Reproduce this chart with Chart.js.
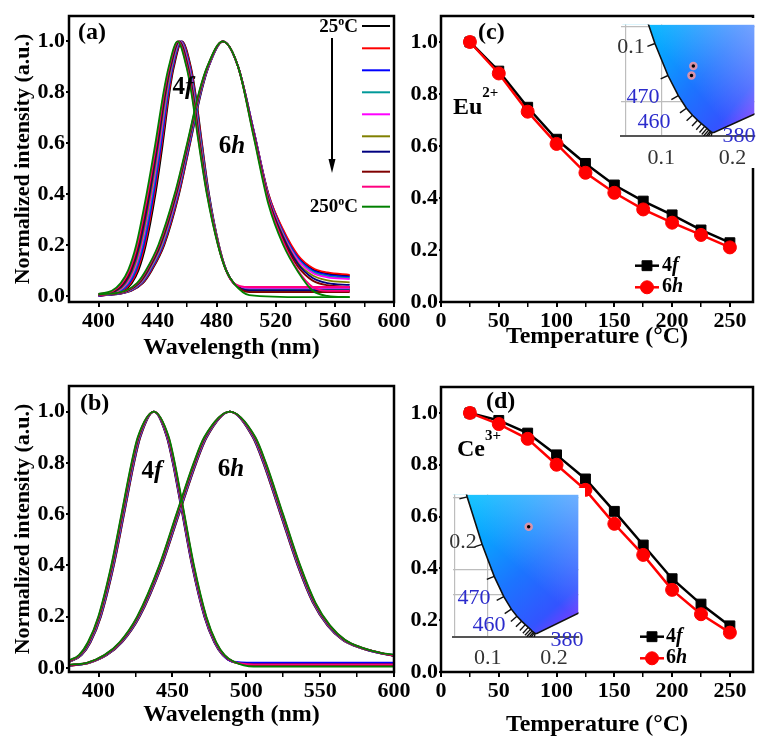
<!DOCTYPE html>
<html>
<head>
<meta charset="utf-8">
<script src="https://cdn.jsdelivr.net/npm/chart.js@4.4.1/dist/chart.umd.min.js"></script>
<style>
  body { margin: 0; background: #fff; }
  #page { position: relative; width: 761px; height: 740px; overflow: hidden; background: #fff; }
  canvas { position: absolute; }
</style>
</head>
<body>
<div id="page">
  <canvas id="specEu" width="420" height="362" style="left:0;top:0"></canvas>
  <canvas id="specCe" width="420" height="359" style="left:0;top:370px"></canvas>
  <canvas id="quenchEu" width="381" height="351" style="left:380px;top:0"></canvas>
  <canvas id="quenchCe" width="381" height="369" style="left:380px;top:370px"></canvas>
  <canvas id="cieEu" width="147" height="150" style="left:614px;top:18px"></canvas>
  <canvas id="cieCe" width="139" height="180" style="left:446px;top:488px"></canvas>
</div>
<script>
// ================================
// DATA
// ================================
const tempC = [25, 50, 75, 100, 125, 150, 175, 200, 225, 250];
const seriesColors = ["#000000", "#ff0000", "#0000ff", "#009999", "#ff00ff",
                      "#808000", "#000080", "#800000", "#ff0080", "#008000"];

// Eu2+ emission, 4f site, one row per temperature: [wavelength, intensity]
const spectraEu4f = [
  [[400,0],[417,.02],[422.5,.05],[427,.1],[432,.2],[438.5,.4],[443.5,.6],[448,.8],[451,.9],[456.5,1],[462.5,.9],[465.5,.8],[470,.6],[474.8,.4],[481.5,.2],[486.5,.1],[491.5,.05],[502,.02],[540,.02],[570,.02]],
  [[400,.001],[416.1,.02],[421.7,.05],[426.2,.1],[431.3,.2],[437.8,.4],[442.9,.6],[447.6,.8],[450.6,.9],[456.2,1],[462.2,.9],[465.2,.8],[469.8,.6],[474.6,.4],[481.4,.2],[486.5,.1],[491.5,.05],[502,.025],[540,.025],[570,.025]],
  [[400,.002],[415.2,.02],[420.8,.05],[425.4,.1],[430.6,.2],[437.2,.4],[442.4,.6],[447.1,.8],[450.2,.9],[455.8,1],[461.8,.9],[464.9,.8],[469.5,.6],[474.5,.4],[481.3,.2],[486.5,.1],[491.5,.05],[502,.03],[540,.03],[570,.03]],
  [[400,.003],[414.3,.02],[420,.05],[424.7,.1],[429.8,.2],[436.5,.4],[441.8,.6],[446.7,.8],[449.8,.9],[455.5,1],[461.5,.9],[464.6,.8],[469.3,.6],[474.3,.4],[481.3,.2],[486.4,.1],[491.5,.05],[502,.028],[540,.028],[570,.028]],
  [[400,.004],[413.4,.02],[419.2,.05],[423.9,.1],[429.1,.2],[435.8,.4],[441.3,.6],[446.2,.8],[449.4,.9],[455.2,1],[461.2,.9],[464.3,.8],[469,.6],[474.1,.4],[481.2,.2],[486.4,.1],[491.5,.05],[502,.032],[540,.032],[570,.032]],
  [[400,.005],[412.6,.02],[418.3,.05],[423.1,.1],[428.4,.2],[435.2,.4],[440.7,.6],[445.8,.8],[449.1,.9],[454.8,1],[460.8,.9],[464,.8],[468.8,.6],[474,.4],[481.1,.2],[486.4,.1],[491.5,.05],[502,.02],[540,.02],[570,.02]],
  [[400,.006],[411.7,.02],[417.5,.05],[422.3,.1],[427.7,.2],[434.5,.4],[440.2,.6],[445.3,.8],[448.7,.9],[454.5,1],[460.5,.9],[463.7,.8],[468.5,.6],[473.8,.4],[481,.2],[486.4,.1],[491.5,.05],[502,.022],[540,.022],[570,.022]],
  [[400,.006],[410.8,.02],[416.7,.05],[421.6,.1],[426.9,.2],[433.8,.4],[439.6,.6],[444.9,.8],[448.3,.9],[454.2,1],[460.2,.9],[463.4,.8],[468.3,.6],[473.6,.4],[481,.2],[486.3,.1],[491.5,.05],[502,.015],[540,.015],[570,.015]],
  [[400,.007],[409.9,.02],[415.8,.05],[420.8,.1],[426.2,.2],[433.2,.4],[439.1,.6],[444.4,.8],[447.9,.9],[453.8,1],[459.8,.9],[463.1,.8],[468,.6],[473.5,.4],[480.9,.2],[486.3,.1],[491.5,.05],[502,.035],[540,.035],[570,.035]],
  [[400,.008],[409,.02],[415,.05],[420,.1],[425.5,.2],[432.5,.4],[438.5,.6],[444,.8],[447.5,.9],[453.5,1],[459.5,.9],[462.8,.8],[467.8,.6],[473.3,.4],[480.8,.2],[486.3,.1],[491.5,.05],[502,.003],[540,-.005],[570,-.005]]
];

// Eu2+ emission, 6h site
const spectraEu6h = [
  [[400,0],[422,.02],[430,.05],[436,.1],[444.5,.2],[454.5,.4],[462,.6],[469.5,.8],[474.5,.9],[484.5,1],[494.5,.9],[505,.65],[515,.4],[525,.255],[535,.155],[545,.105],[555,.088],[570,.08]],
  [[400,0],[421.6,.02],[429.6,.05],[435.6,.1],[444.1,.2],[454.2,.4],[461.8,.6],[469.3,.8],[474.4,.9],[484.4,1],[494.5,.9],[505,.65],[515,.4],[525,.26],[535,.16],[545,.11],[555,.092],[570,.083]],
  [[400,0],[421.1,.02],[429.1,.05],[435.1,.1],[443.6,.2],[453.8,.4],[461.6,.6],[469.2,.8],[474.3,.9],[484.4,1],[494.5,.9],[505,.65],[515,.395],[525,.25],[535,.15],[545,.1],[555,.083],[570,.075]],
  [[400,.002],[420.7,.02],[428.7,.05],[434.7,.1],[443.2,.2],[453.5,.4],[461.3,.6],[469,.8],[474.2,.9],[484.3,1],[494.5,.9],[505,.645],[515,.39],[525,.245],[535,.145],[545,.095],[555,.078],[570,.07]],
  [[400,.002],[420.2,.02],[428.2,.05],[434.2,.1],[442.7,.2],[453.2,.4],[461.1,.6],[468.8,.8],[474.1,.9],[484.3,1],[494.5,.9],[505,.645],[515,.39],[525,.24],[535,.14],[545,.09],[555,.073],[570,.066]],
  [[400,.003],[419.8,.02],[427.8,.05],[433.8,.1],[442.3,.2],[452.8,.4],[460.9,.6],[468.7,.8],[473.9,.9],[484.2,1],[494.5,.9],[505,.64],[515,.385],[525,.235],[535,.13],[545,.08],[555,.061],[570,.053]],
  [[400,.003],[419.3,.02],[427.3,.05],[433.3,.1],[441.8,.2],[452.5,.4],[460.7,.6],[468.5,.8],[473.8,.9],[484.2,1],[494.5,.9],[505,.64],[515,.38],[525,.23],[535,.125],[545,.07],[555,.05],[570,.043]],
  [[400,.004],[418.9,.02],[426.9,.05],[432.9,.1],[441.4,.2],[452.2,.4],[460.4,.6],[468.3,.8],[473.7,.9],[484.1,1],[494.5,.9],[505,.635],[515,.375],[525,.22],[535,.115],[545,.06],[555,.042],[570,.035]],
  [[400,.004],[418.4,.02],[426.4,.05],[432.4,.1],[440.9,.2],[451.8,.4],[460.2,.6],[468.2,.8],[473.6,.9],[484.1,1],[494.5,.9],[505,.63],[515,.37],[525,.21],[535,.1],[545,.035],[555,.02],[570,.02]],
  [[400,.005],[418,.02],[426,.05],[432,.1],[440.5,.2],[451.5,.4],[460,.6],[468,.8],[473.5,.9],[484,1],[494.5,.9],[505,.625],[515,.36],[525,.2],[535,.095],[545,.02],[555,0],[570,-.005]]
];

// Ce3+ emission, 4f site
const spectraCe4f = [
  [[380,.022],[388.5,.05],[394.6,.1],[401.6,.2],[410.4,.4],[417.3,.6],[424.1,.8],[428.3,.9],[437.5,1],[446.2,.9],[450.2,.8],[456.7,.6],[463.2,.4],[471.6,.2],[478.3,.1],[484,.05],[490,.025],[505,.012],[600,.012]],
  [[380,.023],[388.3,.05],[394.4,.1],[401.4,.2],[410.2,.4],[417.1,.6],[423.9,.8],[428.1,.9],[437.5,1],[446.4,.9],[450.4,.8],[456.9,.6],[463.4,.4],[471.8,.2],[478.5,.1],[484.2,.05],[490.2,.025],[505,.014],[600,.014]],
  [[380,.024],[388.1,.05],[394.2,.1],[401.2,.2],[410,.4],[416.9,.6],[423.7,.8],[427.9,.9],[437.5,1],[446.5,.9],[450.5,.8],[457,.6],[463.5,.4],[471.9,.2],[478.6,.1],[484.3,.05],[490.3,.025],[505,.02],[600,.02]],
  [[380,.024],[387.9,.05],[394,.1],[401,.2],[409.8,.4],[416.7,.6],[423.5,.8],[427.7,.9],[437.5,1],[446.7,.9],[450.7,.8],[457.2,.6],[463.7,.4],[472.1,.2],[478.8,.1],[484.5,.05],[490.5,.025],[505,.012],[600,.012]],
  [[380,.025],[387.7,.05],[393.8,.1],[400.8,.2],[409.6,.4],[416.5,.6],[423.3,.8],[427.5,.9],[437.5,1],[446.8,.9],[450.8,.8],[457.3,.6],[463.8,.4],[472.2,.2],[478.9,.1],[484.6,.05],[490.6,.025],[505,.015],[600,.015]],
  [[380,.025],[387.5,.05],[393.6,.1],[400.6,.2],[409.4,.4],[416.3,.6],[423.1,.8],[427.3,.9],[437.5,1],[447,.9],[451,.8],[457.5,.6],[464,.4],[472.4,.2],[479.1,.1],[484.8,.05],[490.8,.025],[505,.01],[600,.01]],
  [[380,.026],[387.3,.05],[393.4,.1],[400.4,.2],[409.2,.4],[416.1,.6],[422.9,.8],[427.1,.9],[437.5,1],[447.1,.9],[451.1,.8],[457.6,.6],[464.1,.4],[472.5,.2],[479.2,.1],[484.9,.05],[490.9,.025],[505,.016],[600,.016]],
  [[380,.027],[387.1,.05],[393.2,.1],[400.2,.2],[409,.4],[415.9,.6],[422.7,.8],[426.9,.9],[437.5,1],[447.3,.9],[451.3,.8],[457.8,.6],[464.3,.4],[472.7,.2],[479.4,.1],[485.1,.05],[491.1,.025],[505,.012],[600,.012]],
  [[380,.028],[386.9,.05],[393,.1],[400,.2],[408.8,.4],[415.7,.6],[422.5,.8],[426.7,.9],[437.5,1],[447.4,.9],[451.4,.8],[457.9,.6],[464.4,.4],[472.8,.2],[479.5,.1],[485.2,.05],[491.2,.025],[505,.014],[600,.014]],
  [[380,.03],[386.7,.05],[392.8,.1],[399.8,.2],[408.6,.4],[415.5,.6],[422.3,.8],[426.5,.9],[437.5,1],[447.6,.9],[451.6,.8],[458.1,.6],[464.6,.4],[473,.2],[479.7,.1],[485.4,.05],[491.4,.025],[505,.005],[600,.005]]
];

// Ce3+ emission, 6h site
const spectraCe6h = [
  [[380,.008],[393.8,.02],[405.7,.05],[416,.1],[427.9,.2],[442.9,.4],[454.5,.6],[466.2,.8],[473.3,.9],[488.9,1],[504.4,.9],[511.5,.8],[523.1,.6],[534.7,.4],[545,.255],[555,.165],[565,.11],[577,.078],[590,.058],[600,.047]],
  [[380,.008],[393.6,.02],[405.5,.05],[415.8,.1],[427.7,.2],[442.7,.4],[454.3,.6],[466,.8],[473.1,.9],[488.9,1],[504.6,.9],[511.7,.8],[523.3,.6],[534.9,.4],[545.2,.255],[555.2,.165],[565.2,.11],[577.2,.078],[590.2,.058],[600,.048]],
  [[380,.009],[393.4,.02],[405.3,.05],[415.6,.1],[427.5,.2],[442.5,.4],[454.1,.6],[465.8,.8],[472.9,.9],[488.9,1],[504.8,.9],[511.9,.8],[523.5,.6],[535.1,.4],[545.4,.255],[555.4,.165],[565.4,.11],[577.4,.078],[590.4,.058],[600,.05]],
  [[380,.009],[393.2,.02],[405.1,.05],[415.4,.1],[427.3,.2],[442.3,.4],[453.9,.6],[465.6,.8],[472.7,.9],[488.9,1],[505,.9],[512.1,.8],[523.7,.6],[535.3,.4],[545.6,.255],[555.6,.165],[565.6,.11],[577.6,.078],[590.6,.058],[600,.046]],
  [[380,.01],[393,.02],[404.9,.05],[415.2,.1],[427.1,.2],[442.1,.4],[453.7,.6],[465.4,.8],[472.5,.9],[488.9,1],[505.2,.9],[512.3,.8],[523.9,.6],[535.5,.4],[545.8,.255],[555.8,.165],[565.8,.11],[577.8,.078],[590.8,.058],[600,.048]],
  [[380,.01],[392.8,.02],[404.7,.05],[415,.1],[426.9,.2],[441.9,.4],[453.5,.6],[465.2,.8],[472.3,.9],[488.9,1],[505.4,.9],[512.5,.8],[524.1,.6],[535.7,.4],[546,.255],[556,.165],[566,.11],[578,.078],[591,.058],[600,.047]],
  [[380,.011],[392.6,.02],[404.5,.05],[414.8,.1],[426.7,.2],[441.7,.4],[453.3,.6],[465,.8],[472.1,.9],[488.9,1],[505.6,.9],[512.7,.8],[524.3,.6],[535.9,.4],[546.2,.255],[556.2,.165],[566.2,.11],[578.2,.078],[591.2,.058],[600,.048]],
  [[380,.011],[392.4,.02],[404.3,.05],[414.6,.1],[426.5,.2],[441.5,.4],[453.1,.6],[464.8,.8],[471.9,.9],[488.9,1],[505.8,.9],[512.9,.8],[524.5,.6],[536.1,.4],[546.4,.255],[556.4,.165],[566.4,.11],[578.4,.078],[591.4,.058],[600,.047]],
  [[380,.012],[392.2,.02],[404.1,.05],[414.4,.1],[426.3,.2],[441.3,.4],[452.9,.6],[464.6,.8],[471.7,.9],[488.9,1],[506,.9],[513.1,.8],[524.7,.6],[536.3,.4],[546.6,.255],[556.6,.165],[566.6,.11],[578.6,.078],[591.6,.058],[600,.049]],
  [[380,.013],[392,.02],[403.9,.05],[414.2,.1],[426.1,.2],[441.1,.4],[452.7,.6],[464.4,.8],[471.5,.9],[488.9,1],[506.2,.9],[513.3,.8],[524.9,.6],[536.5,.4],[546.8,.255],[556.8,.165],[566.8,.11],[578.8,.078],[591.8,.058],[600,.052]]
];

// integrated intensity vs temperature
const quenchEu4f = [1.0, 0.888, 0.749, 0.626, 0.533, 0.45, 0.388, 0.335, 0.277, 0.228];
const quenchEu6h = [1.0, 0.879, 0.732, 0.608, 0.497, 0.42, 0.356, 0.305, 0.258, 0.21];
const quenchCe4f = [1.0, 0.971, 0.922, 0.838, 0.745, 0.62, 0.49, 0.36, 0.262, 0.178];
const quenchCe6h = [1.0, 0.957, 0.90, 0.80, 0.703, 0.572, 0.452, 0.317, 0.223, 0.152];

// ticks
const wlTicksEu = [400, 420, 440, 460, 480, 500, 520, 540, 560, 580, 600];
const wlLabelsEu = [400, 440, 480, 520, 560, 600];
const wlTicksCe = [400, 425, 450, 475, 500, 525, 550, 575, 600];
const wlLabelsCe = [400, 450, 500, 550, 600];
const tTicks = [0, 25, 50, 75, 100, 125, 150, 175, 200, 225, 250];
const tLabels = [0, 50, 100, 150, 200, 250];
const intTicks = [0, 0.2, 0.4, 0.6, 0.8, 1.0];

// CIE 1931 spectral locus (ordered by x) and the inset points
const locusNm = [490, 485, 480, 475, 470, 465, 460, 455, 450, 445, 440, 435, 430, 425, 420, 380, 700];
const locusX = [0.0454, 0.0687, 0.0913, 0.1096, 0.1241, 0.1355, 0.1440, 0.1510, 0.1566, 0.1611, 0.1644, 0.1669, 0.1689, 0.1703, 0.1714, 0.1741, 0.7347];
const locusY = [0.2950, 0.2007, 0.1327, 0.0868, 0.0578, 0.0399, 0.0297, 0.0227, 0.0177, 0.0138, 0.0109, 0.0086, 0.0069, 0.0058, 0.0051, 0.0050, 0.2653];
const cieEuDots = [[0.1452, 0.1003], [0.1426, 0.0868]];
const cieCeDots = [[0.1617, 0.158]];
const cieXTicks = [0.05, 0.1, 0.15, 0.2];
const cieXLabels = [0.1, 0.2];
const cieGridYEu = [0.05, 0.157];
const cieGridYCe = [0.06, 0.096, 0.2];

// ================================
// DRAW HELPERS
// ================================
const SERIF = "'Liberation Serif', 'Times New Roman', serif";
Chart.defaults.font.family = SERIF;
Chart.defaults.color = "#000";

function runFont(st, size, weight) {
  const px = st === "s" ? Math.round(size * 0.62) : size;
  return (st === "i" ? "italic " : "") + weight + " " + px + "px " + SERIF;
}

// parts: [text, style, rise]; style "i" = italic, "s" = superscript
function drawRich(ctx, n) {
  const size = n.size || 24, weight = n.weight || "bold";
  ctx.save();
  ctx.fillStyle = n.color || "#000";
  ctx.textBaseline = "middle";
  ctx.textAlign = "left";
  let w = 0;
  n.parts.forEach(([t, st]) => { ctx.font = runFont(st, size, weight); w += ctx.measureText(t).width; });
  let x = n.align === "right" ? n.x - w : n.align === "center" ? n.x - w / 2 : n.x;
  n.parts.forEach(([t, st, rise]) => {
    ctx.font = runFont(st, size, weight);
    const dy = st === "s" ? (rise !== undefined ? rise : size * 0.45) : 0;
    ctx.fillText(t, x, n.y - dy);
    x += ctx.measureText(t).width;
  });
  ctx.restore();
}

function drawKey(chart, key) {
  const ctx = chart.ctx;
  chart.data.datasets.forEach((ds, k) => {
    const y = key.ys[k];
    ctx.save();
    ctx.strokeStyle = ds.borderColor;
    ctx.lineWidth = ds.borderWidth;
    ctx.beginPath(); ctx.moveTo(key.x1, y); ctx.lineTo(key.x2, y); ctx.stroke();
    ctx.fillStyle = ds.pointBackgroundColor;
    ctx.strokeStyle = ds.pointBorderColor;
    ctx.lineWidth = 1;
    Chart.helpers.drawPoint(ctx, { pointStyle: ds.pointStyle, radius: ds.pointRadius, rotation: 0, borderWidth: 1 },
      (key.x1 + key.x2) / 2, y);
    ctx.restore();
    drawRich(ctx, { x: key.textX, y: y, parts: key.parts[k], size: key.size });
  });
}

function notes(spec) {
  return {
    id: "notes",
    afterDraw(chart) {
      const ctx = chart.ctx;
      if (spec.swatches) {
        const s = spec.swatches;
        s.ys.forEach((y, i) => {
          ctx.save();
          ctx.strokeStyle = seriesColors[i];
          ctx.lineWidth = 2;
          ctx.beginPath(); ctx.moveTo(s.x1, y); ctx.lineTo(s.x2, y); ctx.stroke();
          ctx.restore();
        });
      }
      if (spec.arrow) {
        const a = spec.arrow;
        ctx.save();
        ctx.strokeStyle = "#000"; ctx.fillStyle = "#000"; ctx.lineWidth = 2;
        ctx.beginPath(); ctx.moveTo(a.x, a.y1); ctx.lineTo(a.x, a.y2 - 12); ctx.stroke();
        ctx.beginPath(); ctx.moveTo(a.x - 3.5, a.y2 - 14); ctx.lineTo(a.x + 3.5, a.y2 - 14); ctx.lineTo(a.x, a.y2); ctx.closePath(); ctx.fill();
        ctx.restore();
      }
      if (spec.key) drawKey(chart, spec.key);
      (spec.texts || []).forEach(n => drawRich(ctx, n));
    }
  };
}

const framePlugin = {
  id: "frame",
  afterDraw(chart) {
    const { ctx, chartArea: a } = chart;
    ctx.save();
    ctx.strokeStyle = "#000";
    ctx.lineWidth = 2.5;
    ctx.strokeRect(a.left, a.top, a.right - a.left, a.bottom - a.top);
    ctx.restore();
  }
};

function axes(o) {
  return {
    x: {
      type: "linear", bounds: "data", min: o.xMin, max: o.xMax,
      afterBuildTicks: s => { s.ticks = o.xTicks.map(v => ({ value: v })); },
      afterFit: s => { s.height = o.axisH; s.paddingLeft = 0; s.paddingRight = 0; },
      border: { display: false },
      grid: { drawOnChartArea: false, tickLength: 5, color: "#000",
              lineWidth: c => (c.tick && o.xLabels.includes(c.tick.value)) ? 2 : 1.5 },
      ticks: { padding: 1, autoSkip: false, maxRotation: 0, color: "#000",
               font: { size: 22, weight: "bold" },
               callback: v => o.xLabels.includes(v) ? String(v) : "" },
      title: { display: true, text: o.xTitle, color: "#000",
               font: { size: 24, weight: "bold" }, padding: { top: 0, bottom: 0 } }
    },
    y: {
      type: "linear", bounds: "data", min: o.yMin, max: 1.1,
      afterBuildTicks: s => { s.ticks = intTicks.map(v => ({ value: v })); },
      afterFit: s => { s.width = o.axisW; s.paddingTop = 0; s.paddingBottom = 0; },
      border: { display: false },
      grid: { drawOnChartArea: false, tickLength: o.yTick, color: "#000", lineWidth: 2 },
      ticks: { padding: 1, color: "#000", font: { size: 22, weight: "bold" }, callback: v => v.toFixed(1) },
      title: { display: !!o.yTitle, text: o.yTitle || "", color: "#000",
               font: { size: 22, weight: "bold" }, padding: { top: 10, bottom: 0 } }
    }
  };
}

function baseOptions(o) {
  return {
    responsive: false, animation: false, events: [],
    layout: { padding: { top: o.padTop, right: o.padRight, left: 0, bottom: 0 } },
    plugins: { legend: { display: false }, tooltip: { enabled: false } },
    scales: axes(o)
  };
}

// ================================
// SPECTRA PANELS
// ================================
function spectraChart(id, o) {
  const datasets = [];
  o.bands.forEach(rows => rows.forEach((pts, i) => datasets.push({
    label: tempC[i] + " °C", data: pts, borderColor: seriesColors[i], borderWidth: o.lineW,
    pointRadius: 0, fill: false, cubicInterpolationMode: "monotone", order: 9 - i
  })));
  return new Chart(document.getElementById(id), {
    type: "line",
    data: { datasets },
    options: baseOptions(o),
    plugins: [framePlugin, notes(o.notes)]
  });
}

spectraChart("specEu", {
  bands: [spectraEu6h, spectraEu4f], lineW: 1.8,
  xMin: 380, xMax: 600, yMin: -0.024, xTicks: wlTicksEu, xLabels: wlLabelsEu,
  xTitle: "Wavelength (nm)", yTitle: "Normalized intensity (a.u.)",
  padTop: 16, padRight: 26, axisH: 60, axisW: 69, yTick: 3,
  notes: {
    texts: [
      { x: 78, y: 33, parts: [["(a)"]], size: 24 },
      { x: 183, y: 88, parts: [["4"], ["f", "i"]], size: 25, align: "center" },
      { x: 232, y: 147, parts: [["6"], ["h", "i"]], size: 25, align: "center" },
      { x: 358, y: 27, parts: [["25"], ["o", "s", 5], ["C"]], size: 19, align: "right" },
      { x: 358, y: 207, parts: [["250"], ["o", "s", 5], ["C"]], size: 19, align: "right" }
    ],
    swatches: { x1: 362, x2: 390, ys: [26, 48.3, 70.3, 92.3, 114.3, 136.3, 151.7, 171.7, 186.7, 206.7] },
    arrow: { x: 332, y1: 38, y2: 173 }
  }
});

spectraChart("specCe", {
  bands: [spectraCe6h, spectraCe4f], lineW: 1.8,
  xMin: 380, xMax: 600, yMin: -0.016, xTicks: wlTicksCe, xLabels: wlLabelsCe,
  xTitle: "Wavelength (nm)", yTitle: "Normalized intensity (a.u.)",
  padTop: 16, padRight: 26, axisH: 57, axisW: 69, yTick: 3,
  notes: {
    texts: [
      { x: 80, y: 34, parts: [["(b)"]], size: 24 },
      { x: 152, y: 102, parts: [["4"], ["f", "i"]], size: 25, align: "center" },
      { x: 231, y: 100, parts: [["6"], ["h", "i"]], size: 25, align: "center" }
    ]
  }
});

// ================================
// THERMAL QUENCHING PANELS
// ================================
function quenchChart(id, q4f, q6h, o) {
  const datasets = [
    { label: "4f", data: tempC.map((t, k) => ({ x: t, y: q4f[k] })), borderColor: "#000",
      backgroundColor: "#000", pointBackgroundColor: "#000", pointBorderColor: "#000",
      pointStyle: "rect", pointRadius: 7, pointBorderWidth: 1, borderWidth: 2.5, order: 1 },
    { label: "6h", data: tempC.map((t, k) => ({ x: t, y: q6h[k] })), borderColor: "#ff0000",
      backgroundColor: "#ff0000", pointBackgroundColor: "#ff0000", pointBorderColor: "#ff0000",
      pointStyle: "circle", pointRadius: 6.5, pointBorderWidth: 1, borderWidth: 2.5, order: 0 }
  ];
  return new Chart(document.getElementById(id), {
    type: "line",
    data: { datasets },
    options: baseOptions(Object.assign({
      xMin: 0, xMax: 270, yMin: 0, xTicks: tTicks, xLabels: tLabels,
      xTitle: "Temperature (°C)", padRight: 0, axisW: 61, yTick: 2
    }, o)),
    plugins: [framePlugin, notes(o.notes)]
  });
}

quenchChart("quenchEu", quenchEu4f, quenchEu6h, {
  padTop: 16, axisH: 49,
  notes: {
    texts: [
      { x: 98, y: 33, parts: [["(c)"]], size: 24 },
      { x: 73, y: 108, parts: [["Eu"], ["2+", "s", 15]], size: 24 }
    ],
    key: { x1: 255, x2: 279, ys: [265.7, 287.3], textX: 282, size: 20,
           parts: [[["4"], ["f", "i"]], [["6"], ["h", "i"]]] }
  }
});

quenchChart("quenchCe", quenchCe4f, quenchCe6h, {
  padTop: 17, axisH: 67,
  notes: {
    texts: [
      { x: 106, y: 32, parts: [["(d)"]], size: 24 },
      { x: 77, y: 80, parts: [["Ce"], ["3+", "s", 14]], size: 24 }
    ],
    key: { x1: 260, x2: 284, ys: [266.7, 288.3], textX: 286, size: 20,
           parts: [[["4"], ["f", "i"]], [["6"], ["h", "i"]]] }
  }
});

// ================================
// CIE INSETS
// ================================
function hueFill(chart) {
  const a = chart.chartArea;
  if (!a) return "rgba(0,0,0,0)";
  const g = chart.ctx.createLinearGradient(a.left, a.top, a.right, a.bottom);
  g.addColorStop(0, "#00ccff");
  g.addColorStop(0.3, "#0aa0ff");
  g.addColorStop(0.55, "#1c74ff");
  g.addColorStop(0.8, "#3354ff");
  g.addColorStop(1, "#a02eff");
  return g;
}

function sheenFill(chart) {
  const a = chart.chartArea;
  if (!a) return "rgba(0,0,0,0)";
  const g = chart.ctx.createLinearGradient(a.right, a.top,
    a.left + (a.right - a.left) * 0.5, a.top + (a.bottom - a.top) * 0.5);
  g.addColorStop(0, "rgba(200,215,255,0.5)");
  g.addColorStop(1, "rgba(200,215,255,0)");
  return g;
}

const whiteBg = {
  id: "whiteBg",
  beforeDraw(chart) {
    const ctx = chart.ctx;
    ctx.save(); ctx.fillStyle = "#fff"; ctx.fillRect(0, 0, chart.width, chart.height); ctx.restore();
  }
};

// short wavelength marks normal to the locus
const locusTicks = {
  id: "locusTicks",
  afterDatasetsDraw(chart) {
    const { ctx, chartArea: a, scales: { x, y } } = chart;
    ctx.save();
    ctx.beginPath(); ctx.rect(a.left, a.top, a.right - a.left, a.bottom - a.top); ctx.clip();
    ctx.strokeStyle = "#111"; ctx.lineWidth = 1.4;
    locusNm.forEach((nm, k) => {
      if (nm < 420 || nm > 485) return;
      const px = x.getPixelForValue(locusX[k]), py = y.getPixelForValue(locusY[k]);
      const dx = x.getPixelForValue(locusX[k + 1]) - x.getPixelForValue(locusX[k - 1]);
      const dy = y.getPixelForValue(locusY[k + 1]) - y.getPixelForValue(locusY[k - 1]);
      const len = Math.hypot(dx, dy) || 1;
      ctx.beginPath();
      ctx.moveTo(px, py);
      ctx.lineTo(px - dy / len * 8, py + dx / len * 8);
      ctx.stroke();
    });
    ctx.restore();
  }
};

function cieInset(id, o) {
  const locus = locusNm.map((nm, k) => ({ x: locusX[k], y: locusY[k] }));
  return new Chart(document.getElementById(id), {
    type: "line",
    data: { datasets: [
      { data: locus, pointRadius: 0, borderWidth: 0, tension: 0, fill: "end", backgroundColor: c => hueFill(c.chart), order: 3 },
      { data: locus, pointRadius: 0, borderWidth: 0, tension: 0, fill: "end", backgroundColor: c => sheenFill(c.chart), order: 2 },
      { data: locus, pointRadius: 0, borderWidth: 1.6, borderColor: "#111", tension: 0, fill: false, order: 1 },
      { data: o.dots.map(d => ({ x: d[0], y: d[1] })), showLine: false, pointRadius: 3,
        pointBackgroundColor: "#000", pointBorderColor: "rgba(225,150,170,0.95)", pointBorderWidth: 2.5, order: 0 }
    ] },
    options: {
      responsive: false, animation: false, events: [],
      layout: { padding: 0 },
      plugins: { legend: { display: false }, tooltip: { enabled: false } },
      scales: {
        x: {
          type: "linear", bounds: "data", min: o.xMin, max: o.xMax,
          afterBuildTicks: s => { s.ticks = cieXTicks.map(v => ({ value: v })); },
          afterFit: s => { s.height = o.axisH; s.paddingLeft = 0; s.paddingRight = 0; },
          border: { display: true, color: "#555", width: 2 },
          grid: { drawTicks: false, lineWidth: 1.2,
                  color: c => (c.tick && c.tick.value <= 0.1) ? "#bdbdbd" : "rgba(0,0,0,0)" },
          ticks: { padding: o.labelPad, autoSkip: false, maxRotation: 0, color: "#333",
                   font: { size: 22, weight: "normal" },
                   callback: v => cieXLabels.includes(v) ? v.toFixed(1) : "" }
        },
        y: {
          type: "linear", bounds: "data", min: 0, max: o.yMax,
          afterBuildTicks: s => { s.ticks = o.gridY.map(v => ({ value: v })); },
          afterFit: s => { s.width = 0; s.paddingTop = 0; s.paddingBottom = 0; },
          border: { display: false },
          grid: { drawTicks: false, color: "#bdbdbd", lineWidth: 1.2 },
          ticks: { display: false }
        }
      }
    },
    plugins: [whiteBg, locusTicks, notes({ texts: o.texts })]
  });
}

const blue = "#2b2bcc";
cieInset("cieEu", {
  xMin: 0.043, xMax: 0.231, yMax: 0.16, axisH: 32, labelPad: 9,
  gridY: cieGridYEu, dots: cieEuDots,
  texts: [
    { x: 17, y: 29, parts: [["0.1"]], size: 22, weight: "normal", color: "#333", align: "center" },
    { x: 29, y: 79, parts: [["470"]], size: 22, weight: "normal", color: blue, align: "center" },
    { x: 40, y: 104, parts: [["460"]], size: 22, weight: "normal", color: blue, align: "center" },
    { x: 125, y: 118, parts: [["380"]], size: 22, weight: "normal", color: blue, align: "center" }
  ]
});

cieInset("cieCe", {
  xMin: 0.0466, xMax: 0.237, yMax: 0.204, axisH: 31, labelPad: 8,
  gridY: cieGridYCe, dots: cieCeDots,
  texts: [
    { x: 17, y: 54, parts: [["0.2"]], size: 22, weight: "normal", color: "#333", align: "center" },
    { x: 28, y: 110, parts: [["470"]], size: 22, weight: "normal", color: blue, align: "center" },
    { x: 43, y: 137, parts: [["460"]], size: 22, weight: "normal", color: blue, align: "center" },
    { x: 121, y: 152, parts: [["380"]], size: 22, weight: "normal", color: blue, align: "center" }
  ]
});
</script>
</body>
</html>
